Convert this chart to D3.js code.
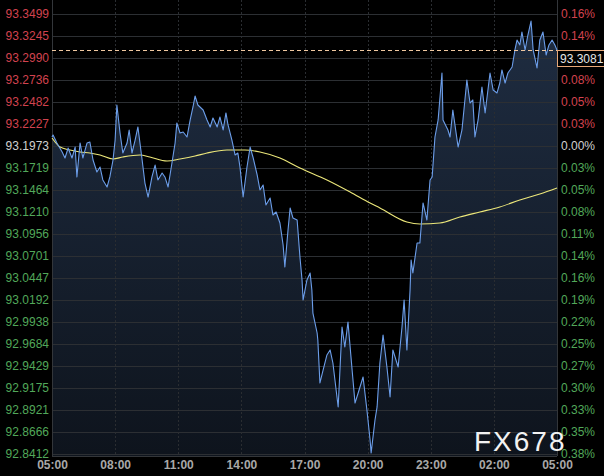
<!DOCTYPE html>
<html><head><meta charset="utf-8">
<script src="https://cdn.jsdelivr.net/npm/d3@7"></script>
<style>html,body{margin:0;padding:0;background:#000;}svg{display:block;}</style>
</head><body>
<svg id="chart" width="604" height="476"></svg>
<script>
// ---- data (minutes after 05:00, price) ----
const priceMinutes = [0,3,14,29,37,46,57,66,71,80,88,100,108,117,128,137,145,157,165,174,180,185,194,202,214,220,228,237,245,257,265,274,285,294,302,314,322,331,342,351,356,365,374,385,394,402,408,416,431,442,451,459,471,479,488,496,502,513,522,530,536,545,556,565,573,585,593,602,610,622,630,639,650,659,664,673,679,687,699,707,713,716,727,736,741,744,756,758,764,773,784,793,801,816,827,835,844,855,864,873,887,898,907,910,921,927,935,944,955,964,972,987,998,1004,1012,1021,1024,1029,1041,1049,1058,1069,1078,1084,1092,1101,1112,1115,1129,1135,1143,1158,1169,1183,1192,1200,1206,1215,1226,1235,1249,1258,1269,1277,1283,1292,1300,1312,1320,1326,1334,1340,1349,1357,1366,1372,1383,1391,1400,1409,1417,1426,1434,1440];
const prices = [93.2077,93.2100,93.2008,93.1904,93.1834,93.1950,93.1834,93.1961,93.1615,93.2008,93.1834,93.2008,93.2019,93.1811,93.1672,93.1730,93.1580,93.1499,93.1615,93.1811,93.2042,93.2447,93.2123,93.1892,93.2008,93.2158,93.1892,93.2042,93.2193,93.1811,93.1545,93.1383,93.1615,93.1753,93.1580,93.1661,93.1615,93.1499,93.1776,93.2008,93.2239,93.2123,93.2135,93.2077,93.2274,93.2424,93.2551,93.2447,93.2389,93.2274,93.2193,93.2297,93.2193,93.2308,93.2158,93.2355,93.2216,93.2042,93.1869,93.1892,93.1730,93.1383,93.1730,93.1961,93.1846,93.1638,93.1464,93.1522,93.1291,93.1372,93.1175,93.1210,93.1083,93.0828,93.0574,93.1002,93.1256,93.1141,93.1117,93.0690,93.0424,93.0193,93.0424,93.0505,93.0308,93.0042,92.9811,92.9730,92.9233,92.9383,92.9557,92.9615,92.9464,92.8956,92.9880,92.9649,92.9938,92.9418,92.9002,92.9117,92.9302,92.8921,92.8574,92.8424,92.8805,92.8956,92.9464,92.9788,92.9418,92.9071,92.9615,92.9418,92.9880,93.0193,92.9615,93.0308,93.0655,93.0505,93.0852,93.0852,93.1314,93.1117,93.1580,93.1615,93.2077,93.2274,93.2817,93.2274,93.2158,93.2077,93.2389,93.1961,93.2158,93.2736,93.2470,93.2505,93.2077,93.2274,93.2655,93.2355,93.2817,93.2620,93.2586,93.2701,93.2852,93.2701,93.2817,93.2886,93.3083,93.3198,93.3141,93.3291,93.3083,93.3256,93.3418,93.3083,93.2875,93.3198,93.3291,93.3025,93.3141,93.3198,93.3141,93.3081];
const maMinutes = [0,23,51,80,108,137,174,202,251,279,328,365,408,442,499,550,593,650,707,784,850,907,935,1012,1049,1106,1163,1220,1277,1334,1391,1440];
const maValues = [93.2065,93.1961,93.1927,93.1904,93.1892,93.1869,93.1823,93.1846,93.1869,93.1846,93.1800,93.1823,93.1857,93.1892,93.1927,93.1927,93.1904,93.1834,93.1719,93.1580,93.1441,93.1314,93.1256,93.1094,93.1071,93.1083,93.1152,93.1210,93.1268,93.1349,93.1418,93.1487];
const yTickLabels = ["93.3499","93.3245","93.2990","93.2736","93.2482","93.2227","93.1973","93.1719","93.1464","93.1210","93.0956","93.0701","93.0447","93.0192","92.9938","92.9684","92.9429","92.9175","92.8921","92.8666","92.8412"];
const xTickLabels = ["05:00","08:00","11:00","14:00","17:00","20:00","23:00","02:00","05:00"];
const basePrice = 93.1973;
const lastPrice = 93.3081;

// ---- layout ----
const svg = d3.select("#chart");
const W = 604, H = 476;
const L = 52, R = 557, T = 14, B = 454;
const t0 = new Date(2021, 0, 1, 5, 0);
const toDate = m => new Date(t0.getTime() + m * 60000);

const x = d3.scaleTime().domain([t0, toDate(1440)]).range([L, R]);
const yTickVals = yTickLabels.map(Number);
const y = d3.scaleLinear().domain([d3.min(yTickVals), d3.max(yTickVals)]).range([B, T]);

svg.append("rect").attr("width", W).attr("height", H).attr("fill", "#000");

const defs = svg.append("defs");
const grad = defs.append("linearGradient").attr("id", "areaGrad")
  .attr("gradientUnits", "userSpaceOnUse").attr("x1", 0).attr("x2", 0).attr("y1", T).attr("y2", B);
grad.append("stop").attr("offset", "0%").attr("stop-color", "#1f2d42");
grad.append("stop").attr("offset", "100%").attr("stop-color", "#0e141d");

const series = priceMinutes.map((m, i) => ({ t: toDate(m), v: prices[i] }));
const maSeries = maMinutes.map((m, i) => ({ t: toDate(m), v: maValues[i] }));

// area
svg.append("path").datum(series)
  .attr("d", d3.area().x(d => x(d.t)).y0(B + 2).y1(d => y(d.v)))
  .attr("fill", "url(#areaGrad)");

// horizontal gridlines
const xTickDates = xTickLabels.map((s, i) => toDate(i * 180));
svg.append("g").selectAll("line").data(yTickVals).join("line")
  .attr("x1", L).attr("x2", R).attr("y1", d => Math.round(y(d)) + 0.5).attr("y2", d => Math.round(y(d)) + 0.5)
  .attr("stroke", "#2c2f33").attr("stroke-width", 1);
// vertical gridlines
svg.append("g").selectAll("line").data(xTickDates.slice(1, -1)).join("line")
  .attr("x1", d => Math.round(x(d)) + 0.5).attr("x2", d => Math.round(x(d)) + 0.5)
  .attr("y1", 0).attr("y2", B + 2)
  .attr("stroke", "#2a2d31").attr("stroke-dasharray", "2,2");
// frame lines
svg.append("line").attr("x1", L + 0.5).attr("x2", L + 0.5).attr("y1", 0).attr("y2", B + 2).attr("stroke", "#33363a");
svg.append("line").attr("x1", R + 0.5).attr("x2", R + 0.5).attr("y1", 0).attr("y2", B + 2).attr("stroke", "#33363a");
svg.append("line").attr("x1", L).attr("x2", R).attr("y1", B + 2.5).attr("y2", B + 2.5).attr("stroke", "#33363a");

// MA line
svg.append("path").datum(maSeries)
  .attr("d", d3.line().x(d => x(d.t)).y(d => y(d.v)).curve(d3.curveMonotoneX))
  .attr("fill", "none").attr("stroke", "#ece77a").attr("stroke-width", 1.1);

// price line
svg.append("path").datum(series)
  .attr("d", d3.line().x(d => x(d.t)).y(d => y(d.v)))
  .attr("fill", "none").attr("stroke", "#6c9eea").attr("stroke-width", 1.1).attr("stroke-linejoin", "round");

// last-price dashed line
svg.append("line").attr("x1", L).attr("x2", R).attr("y1", Math.round(y(lastPrice)) + 0.5).attr("y2", Math.round(y(lastPrice)) + 0.5)
  .attr("stroke", "#f0c8a0").attr("stroke-dasharray", "4,3").attr("stroke-width", 1);

const colorFor = v => Math.abs(v - basePrice) < 1e-6 ? "#d0d0d0" : (v > basePrice ? "#d2434f" : "#52a85a");
const font = "'Liberation Sans', Arial, sans-serif";

// left axis
const yAxisL = d3.axisLeft(y).tickValues(yTickVals).tickSize(0).tickPadding(0)
  .tickFormat((d, i) => yTickLabels[i]);
const gL = svg.append("g").attr("transform", `translate(${L - 3},0)`).call(yAxisL);
gL.select(".domain").remove();
gL.selectAll("text").attr("fill", d => colorFor(d)).style("font-family", font).style("font-size", "12px");

// right axis
const yAxisR = d3.axisRight(y).tickValues(yTickVals).tickSize(0).tickPadding(0)
  .tickFormat(d => (Math.abs(d / basePrice - 1) * 100).toFixed(2) + "%");
const gR = svg.append("g").attr("transform", `translate(${R + 4},0)`).call(yAxisR);
gR.select(".domain").remove();
gR.selectAll("text").attr("fill", d => colorFor(d)).style("font-family", font).style("font-size", "12px");

// bottom axis
const xAxis = d3.axisBottom(x).tickValues(xTickDates).tickSize(0).tickPadding(0)
  .tickFormat((d, i) => xTickLabels[i]);
const gX = svg.append("g").attr("transform", `translate(0,${B + 6})`).call(xAxis);
gX.select(".domain").remove();
gX.selectAll("text").attr("fill", "#a8a8a8").style("font-family", font).style("font-size", "12px").style("font-weight", "bold");

// last-price box
const ly = Math.round(y(lastPrice));
svg.append("rect").attr("x", R + 0.5).attr("y", ly + 0.5).attr("width", 50).attr("height", 16)
  .attr("fill", "#000").attr("stroke", "#e8a878").attr("stroke-width", 1);
svg.append("text").attr("x", R + 3).attr("y", ly + 13).text(lastPrice.toFixed(4))
  .attr("fill", "#e6e6e6").style("font-family", font).style("font-size", "12px");

// watermark
svg.append("text").attr("x", 474).attr("y", 451).text("FX678")
  .attr("fill", "#f2f2f2").style("font-family", font).style("font-size", "28px").style("letter-spacing", "2px");
</script>
</body></html>
